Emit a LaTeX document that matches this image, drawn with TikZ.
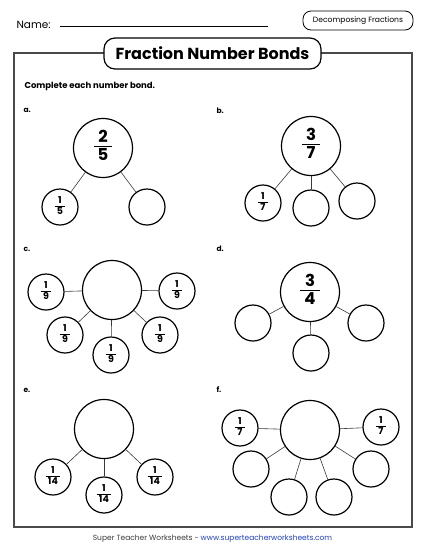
\documentclass[tikz,border=0pt]{standalone}
\usepackage{fontspec}
\setmainfont{Poppins}
\usepackage{xcolor}
\definecolor{stwblue}{HTML}{1F3FBF}
\definecolor{stwline}{HTML}{3A3A3A}
\definecolor{stwframe}{HTML}{4A4A4A}
\usepackage{tikz}
\usetikzlibrary{positioning}
\setlength{\arrayrulewidth}{1pt}
\newcommand{\bondfrac}[2]{%
  \begin{tabular}{@{\hspace{0.25em}}c@{\hspace{0.25em}}}#1\\[-0.08em]\hline\noalign{\vskip0.1em}#2\end{tabular}}
\tikzset{
  bigbond/.style={
    circle, draw=black, fill=white, line width=1.2pt,
    minimum size=59pt, inner sep=0pt,
    font=\fontsize{16.5}{17}\selectfont\bfseries
  },
  smallbond/.style={
    circle, draw=black, fill=white, line width=1.2pt,
    minimum size=36pt, inner sep=0pt,
    font=\fontsize{9.5}{10}\selectfont\bfseries
  },
  bondline/.style={draw=stwline, line width=0.6pt},
  itemlabel/.style={anchor=west, font=\fontsize{7.5}{9}\selectfont\bfseries},
  titlebox/.style={
    draw=black, fill=white, rounded corners=11pt, line width=1.2pt,
    minimum width=217pt, minimum height=31pt, inner sep=0pt,
    font=\fontsize{16}{18}\selectfont\bfseries
  },
  tagbox/.style={
    draw=black, fill=white, rounded corners=8pt, line width=0.8pt,
    minimum width=110pt, minimum height=19pt, inner sep=0pt,
    font=\fontsize{7.6}{8}\selectfont
  }
}

\begin{document}
\begin{tikzpicture}[x=1pt, y=-1pt]
  \useasboundingbox (0,0) rectangle (425,550);

  % header
  \node[anchor=base west, font=\fontsize{10.5}{12}\selectfont] (name) at (13,28) {Name:};
  \coordinate (lineL) at (60,26);
  \coordinate (lineR) at (268,26);
  \draw[line width=0.8pt] (lineL) -- (lineR);
  \node[tagbox] (tag) at (358,20.5) {Decomposing Fractions};

  % frame and title
  \draw[draw=stwframe, line width=1.2pt] (104,53) -- (14,53) -- (14,527) -- (412,527) -- (412,53) -- (321,53);
  \node[titlebox] (title) at (212.5,53.5) {Fraction Number Bonds};
  \node[anchor=base west, font=\fontsize{8.5}{9}\selectfont\bfseries] (instr) at (21,88) {Complete each number bond.};

  % a.
  \node[itemlabel] (la) at (20,110) {a.};
  \node[bigbond] (a0) at (103,148) {\bondfrac{2}{5}};
  \node[smallbond] (a1) at (60,207) {\bondfrac{1}{5}};
  \node[smallbond] (a2) at (147,207) {};
  \foreach \n in {a1,a2}
    \draw[bondline] (a0) -- (\n);

  % b.
  \node[itemlabel] (lb) at (213,111) {b.};
  \node[bigbond] (b0) at (311,146) {\bondfrac{3}{7}};
  \node[smallbond] (b1) at (263,203) {\bondfrac{1}{7}};
  \node[smallbond] (b2) at (311,208) {};
  \node[smallbond] (b3) at (357,201) {};
  \foreach \n in {b1,b2,b3}
    \draw[bondline] (b0) -- (\n);

  % c.
  \node[itemlabel] (lc) at (20,249) {c.};
  \node[bigbond] (c0) at (112,290) {};
  \node[smallbond] (c1) at (46,292) {\bondfrac{1}{9}};
  \node[smallbond] (c2) at (177,291) {\bondfrac{1}{9}};
  \node[smallbond] (c3) at (65,335) {\bondfrac{1}{9}};
  \node[smallbond] (c4) at (111,355) {\bondfrac{1}{9}};
  \node[smallbond] (c5) at (160,335) {\bondfrac{1}{9}};
  \foreach \n in {c1,c2,c3,c4,c5}
    \draw[bondline] (c0) -- (\n);

  % d.
  \node[itemlabel] (ld) at (213,249) {d.};
  \node[bigbond] (d0) at (310,292) {\bondfrac{3}{4}};
  \node[smallbond] (d1) at (253,323) {};
  \node[smallbond] (d2) at (311,353) {};
  \node[smallbond] (d3) at (366,323) {};
  \foreach \n in {d1,d2,d3}
    \draw[bondline] (d0) -- (\n);

  % e.
  \node[itemlabel] (le) at (20,390) {e.};
  \node[bigbond] (e0) at (104,429) {};
  \node[smallbond] (e1) at (53,477) {\bondfrac{1}{14}};
  \node[smallbond] (e2) at (104,495) {\bondfrac{1}{14}};
  \node[smallbond] (e3) at (155,477) {\bondfrac{1}{14}};
  \foreach \n in {e1,e2,e3}
    \draw[bondline] (e0) -- (\n);

  % f.
  \node[itemlabel] (lf) at (213,390) {f.};
  \node[bigbond] (f0) at (310,430) {};
  \node[smallbond] (f1) at (240,428) {\bondfrac{1}{7}};
  \node[smallbond] (f2) at (381,427) {\bondfrac{1}{7}};
  \node[smallbond] (f3) at (251,469) {};
  \node[smallbond] (f4) at (289,497) {};
  \node[smallbond] (f5) at (334,497) {};
  \node[smallbond] (f6) at (371,469) {};
  \foreach \n in {f1,f2,f3,f4,f5,f6}
    \draw[bondline] (f0) -- (\n);

  % footer
  \node[font=\fontsize{7.5}{9}\selectfont, text=stwline] (foot) at (212.5,539)
    {Super Teacher Worksheets - \textcolor{stwblue}{www.superteacherworksheets.com}};
\end{tikzpicture}
\end{document}
